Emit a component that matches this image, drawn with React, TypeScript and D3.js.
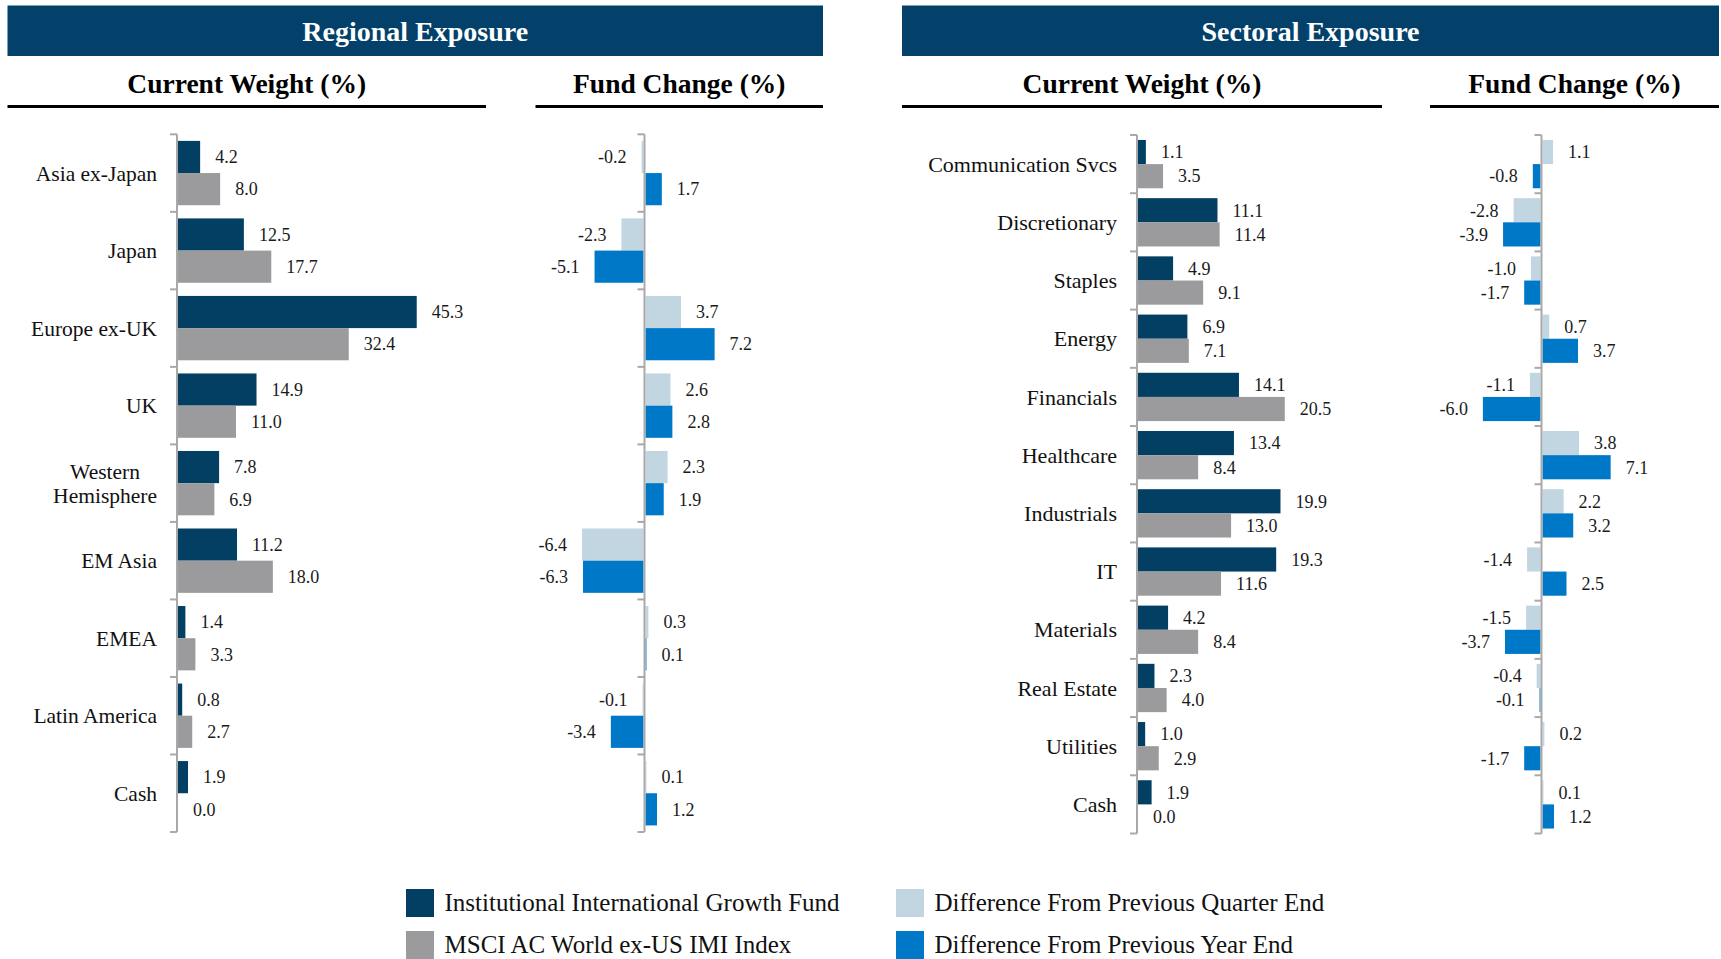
import React, { useEffect, useRef } from "react";
import * as d3 from "d3";

const regionCats = ["Asia ex-Japan", "Japan", "Europe ex-UK", "UK", "Western\nHemisphere", "EM Asia", "EMEA", "Latin America", "Cash"];
const regionFund = [4.2, 12.5, 45.3, 14.9, 7.8, 11.2, 1.4, 0.8, 1.9];
const regionIndex = [8.0, 17.7, 32.4, 11.0, 6.9, 18.0, 3.3, 2.7, 0.0];
const regionQuarter = [-0.2, -2.3, 3.7, 2.6, 2.3, -6.4, 0.3, -0.1, 0.1];
const regionYear = [1.7, -5.1, 7.2, 2.8, 1.9, -6.3, 0.1, -3.4, 1.2];

const sectorCats = ["Communication Svcs", "Discretionary", "Staples", "Energy", "Financials", "Healthcare", "Industrials", "IT", "Materials", "Real Estate", "Utilities", "Cash"];
const sectorFund = [1.1, 11.1, 4.9, 6.9, 14.1, 13.4, 19.9, 19.3, 4.2, 2.3, 1.0, 1.9];
const sectorIndex = [3.5, 11.4, 9.1, 7.1, 20.5, 8.4, 13.0, 11.6, 8.4, 4.0, 2.9, 0.0];
const sectorQuarter = [1.1, -2.8, -1.0, 0.7, -1.1, 3.8, 2.2, -1.4, -1.5, -0.4, 0.2, 0.1];
const sectorYear = [-0.8, -3.9, -1.7, 3.7, -6.0, 7.1, 3.2, 2.5, -3.7, -0.1, -1.7, 1.2];

const legendItems = [
  "Institutional International Growth Fund",
  "MSCI AC World ex-US IMI Index",
  "Difference From Previous Quarter End",
  "Difference From Previous Year End",
];

const C_FUND = "#023f63";
const C_INDEX = "#9b9b9d";
const C_QTR = "#c2d6e2";
const C_YEAR = "#0078c8";
const C_HEAD = "#03416a";
const C_AXIS = "#a9a9a9";
const FONT = "'Liberation Serif', 'Times New Roman', serif";

const W = 1721;
const H = 959;

export default function App() {
  const ref = useRef<SVGSVGElement>(null);

  useEffect(() => {
    document.body.style.margin = "0";
    document.body.style.overflow = "hidden";
    const svg = d3.select(ref.current);
    svg.selectAll("*").remove();
    const fmt = (v: number) => v.toFixed(1);

    // Headers
    const headers = [
      { title: "Regional Exposure", x0: 7.5, x1: 823, subs: [
        { t: "Current Weight (%)", x0: 7.5, x1: 486 },
        { t: "Fund Change (%)", x0: 535.5, x1: 823 },
      ] },
      { title: "Sectoral Exposure", x0: 902, x1: 1719, subs: [
        { t: "Current Weight (%)", x0: 902, x1: 1382 },
        { t: "Fund Change (%)", x0: 1430, x1: 1719 },
      ] },
    ];
    headers.forEach((h) => {
      svg.append("rect").attr("x", h.x0).attr("y", 5.5).attr("width", h.x1 - h.x0).attr("height", 50.5).attr("fill", C_HEAD);
      svg.append("text").attr("x", (h.x0 + h.x1) / 2).attr("y", 41).attr("text-anchor", "middle")
        .attr("font-family", FONT).attr("font-weight", "bold").attr("font-size", 28).attr("fill", "#fff").text(h.title);
      h.subs.forEach((s) => {
        svg.append("text").attr("x", (s.x0 + s.x1) / 2).attr("y", 92.5).attr("text-anchor", "middle")
          .attr("font-family", FONT).attr("font-weight", "bold").attr("font-size", 27.5).attr("fill", "#000").text(s.t);
        svg.append("line").attr("x1", s.x0).attr("x2", s.x1).attr("y1", 106.5).attr("y2", 106.5)
          .attr("stroke", "#000").attr("stroke-width", 3);
      });
    });

    type Panel = {
      cats: string[]; a: number[]; b: number[]; ca: string; cb: string;
      top: number; bottom: number; x: d3.ScaleLinear<number, number>;
      labelRight?: number; labelSize?: number;
    };

    const drawPanel = (p: Panel) => {
      const g = svg.append("g");
      const y = d3.scaleBand<string>().domain(p.cats).range([p.top, p.bottom]).padding(0);
      const inner = d3.scaleBand<string>().domain(["a", "b"]).range([y.bandwidth() * 0.085, y.bandwidth() * 0.915]).padding(0);
      const x0 = p.x(0);

      p.cats.forEach((c, i) => {
        [["a", p.a[i], p.ca], ["b", p.b[i], p.cb]].forEach(([k, v, col]) => {
          const val = v as number;
          const by = (y(c) as number) + (inner(k as string) as number);
          const xa = p.x(Math.min(0, val));
          const xb = p.x(Math.max(0, val));
          g.append("rect").attr("x", xa + (val >= 0 ? 1 : -1)).attr("y", by)
            .attr("width", Math.max(0, xb - xa)).attr("height", inner.bandwidth())
            .attr("fill", col as string);
          const lx = val >= 0 ? xb + 16 : xa - 16;
          g.append("text").attr("x", lx).attr("y", by + inner.bandwidth() / 2).attr("dy", "0.35em")
            .attr("text-anchor", val >= 0 ? "start" : "end")
            .attr("font-family", FONT).attr("font-size", 18).attr("fill", "#1a1a1a").text(fmt(val));
        });
      });

      g.append("line").attr("x1", x0).attr("x2", x0).attr("y1", p.top).attr("y2", p.bottom)
        .attr("stroke", C_AXIS).attr("stroke-width", 2);
      const ticks = p.cats.map((c) => y(c) as number).concat([p.bottom]);
      ticks.forEach((ty) => {
        g.append("line").attr("x1", x0 - 7).attr("x2", x0).attr("y1", ty).attr("y2", ty)
          .attr("stroke", C_AXIS).attr("stroke-width", 2);
      });

      if (p.labelRight !== undefined) {
        p.cats.forEach((c) => {
          const lines = c.split("\n");
          const cy = (y(c) as number) + y.bandwidth() / 2;
          const lh = 24;
          const texts = lines.map((ln, j) =>
            g.append("text").attr("y", cy + (j - (lines.length - 1) / 2) * lh).attr("dy", "0.35em")
              .attr("font-family", FONT).attr("font-size", p.labelSize as number).attr("fill", "#111").text(ln)
          );
          const widths = texts.map((t) => (t.node() as SVGTextElement).getComputedTextLength());
          const maxW = Math.max(...widths);
          texts.forEach((t) => t.attr("text-anchor", "middle").attr("x", (p.labelRight as number) - maxW / 2));
        });
      }
    };

    const rTop = 134.3, rBot = 832;
    const sTop = 135, sBot = 833.5;
    const chPx = 9.6;

    drawPanel({
      cats: regionCats, a: regionFund, b: regionIndex, ca: C_FUND, cb: C_INDEX,
      top: rTop, bottom: rBot, x: d3.scaleLinear().domain([0, 50]).range([177, 177 + 5.27 * 50]),
      labelRight: 157, labelSize: 21.5,
    });
    drawPanel({
      cats: regionCats, a: regionQuarter, b: regionYear, ca: C_QTR, cb: C_YEAR,
      top: rTop, bottom: rBot, x: d3.scaleLinear().domain([-10, 10]).range([644.5 - chPx * 10, 644.5 + chPx * 10]),
    });
    drawPanel({
      cats: sectorCats, a: sectorFund, b: sectorIndex, ca: C_FUND, cb: C_INDEX,
      top: sTop, bottom: sBot, x: d3.scaleLinear().domain([0, 25]).range([1137, 1137 + 7.16 * 25]),
      labelRight: 1117, labelSize: 22,
    });
    drawPanel({
      cats: sectorCats, a: sectorQuarter, b: sectorYear, ca: C_QTR, cb: C_YEAR,
      top: sTop, bottom: sBot, x: d3.scaleLinear().domain([-10, 10]).range([1541.5 - chPx * 10, 1541.5 + chPx * 10]),
    });

    // legend
    const legCols = [C_FUND, C_INDEX, C_QTR, C_YEAR];
    const legPos = [
      { x: 406, y: 889 }, { x: 406, y: 931 }, { x: 896, y: 889 }, { x: 896, y: 931 },
    ];
    legendItems.forEach((t, i) => {
      const p = legPos[i];
      svg.append("rect").attr("x", p.x).attr("y", p.y).attr("width", 28).attr("height", 28).attr("fill", legCols[i]);
      svg.append("text").attr("x", p.x + 38.5).attr("y", p.y + 13.5).attr("dy", "0.35em")
        .attr("font-family", FONT).attr("font-size", 25).attr("fill", "#111").text(t);
    });
  }, []);

  return <svg ref={ref} width={W} height={H} style={{ position: "absolute", left: 0, top: 0, background: "#fff" }} />;
}
